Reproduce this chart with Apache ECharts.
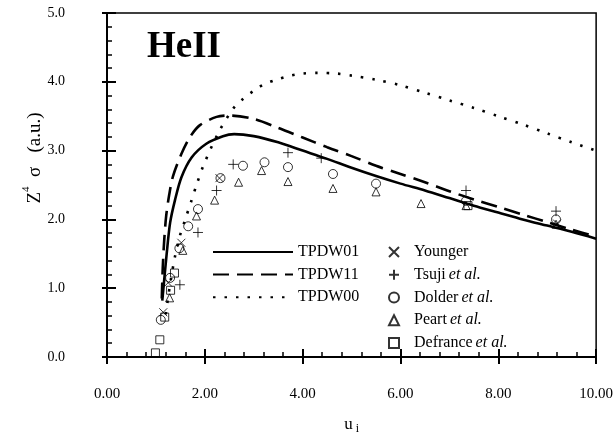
<!DOCTYPE html>
<html>
<head>
<meta charset="utf-8">
<script src="https://cdn.jsdelivr.net/npm/echarts@6/dist/echarts.min.js"></script>
<style>html,body{margin:0;padding:0;background:#fff;}#c{width:616px;height:440px;}</style>
</head>
<body>
<div id="c"></div>
<script>
// ---- data ----
const xTicks = [0, 2, 4, 6, 8, 10];
const yTicks = [0, 1, 2, 3, 4, 5];

const tpdw01 = [[1.13,0.82],[1.18,1.2],[1.22,1.5],[1.29,1.95],[1.39,2.28],[1.52,2.61],[1.73,2.9],[2.03,3.1],[2.37,3.21],[2.6,3.24],[3.0,3.21],[3.5,3.12],[4.0,3.0],[4.5,2.88],[5.0,2.75],[5.5,2.63],[6.0,2.52],[6.5,2.42],[7.0,2.31],[7.5,2.2],[8.0,2.1],[8.5,2.0],[9.0,1.91],[9.5,1.82],[10,1.72]];
const tpdw11 = [[1.12,0.85],[1.14,1.3],[1.17,1.7],[1.21,2.05],[1.27,2.35],[1.35,2.63],[1.52,2.95],[1.7,3.2],[1.9,3.37],[2.24,3.49],[2.5,3.51],[3.0,3.46],[3.5,3.33],[4.0,3.19],[4.5,3.05],[5.0,2.92],[5.5,2.78],[6.0,2.66],[6.5,2.54],[7.0,2.41],[7.5,2.29],[8.0,2.18],[8.5,2.07],[9.0,1.96],[9.5,1.85],[10,1.75]];
const tpdw00 = [[1.2,0.62],[1.3,1.1],[1.39,1.46],[1.49,1.76],[1.59,1.98],[1.73,2.28],[1.83,2.5],[1.97,2.78],[2.27,3.25],[2.58,3.61],[2.78,3.75],[3.0,3.87],[3.2,3.96],[3.5,4.04],[3.75,4.09],[4.0,4.12],[4.3,4.13],[4.7,4.12],[5.0,4.09],[5.5,4.03],[6.0,3.95],[6.5,3.84],[7.0,3.73],[7.5,3.62],[8.0,3.5],[8.5,3.38],[9.0,3.25],[9.5,3.12],[10,3.0]];

const younger  = [[1.15,0.65],[1.25,1.08],[1.52,1.66],[2.3,2.6],[9.2,1.94]];
const tsuji    = [[1.49,1.05],[1.86,1.81],[2.24,2.42],[2.58,2.8],[3.70,2.97],[4.38,2.89],[7.34,2.42],[9.18,2.12]];
const dolder   = [[1.10,0.54],[1.29,1.15],[1.48,1.58],[1.66,1.9],[1.86,2.15],[2.32,2.6],[2.78,2.78],[3.22,2.83],[3.70,2.76],[4.62,2.66],[5.5,2.52],[7.34,2.27],[9.18,2.0]];
const peart    = [[1.28,0.86],[1.55,1.55],[1.83,2.05],[2.2,2.28],[2.69,2.54],[3.16,2.71],[3.70,2.55],[4.62,2.45],[5.5,2.40],[6.42,2.23],[7.34,2.20],[9.18,1.93]];
const defrance = [[0.99,0.06],[1.08,0.25],[1.18,0.58],[1.3,0.97],[1.38,1.22],[7.38,2.2]];

const lineNames = ['TPDW01', 'TPDW11', 'TPDW00'];
const pointNames = ['Younger', 'Tsuji et al.', 'Dolder et al.', 'Peart et al.', 'Defrance et al.'];

// ---- chart ----
const FONT = '"Liberation Serif", "DejaVu Serif", serif';
const chart = echarts.init(document.getElementById('c'), null, {renderer: 'canvas'});

const crossPath = 'path://M0,0L10,10M10,0L0,10';
const plusPath = 'path://M5,0L5,10M0,5L10,5';
const openStyle = {color: 'rgba(0,0,0,0)', borderColor: '#000', borderWidth: 1};

function lineSeries(name, data, width, dash) {
  return {
    name, type: 'line', data, smooth: 0.3,
    symbol: 'none', z: 3,
    lineStyle: {color: '#000', width, type: dash, cap: 'butt'},
    itemStyle: {color: '#000'}
  };
}
function pointSeries(name, data, symbol, size) {
  return {
    name, type: 'scatter', data, symbol, symbolSize: size, z: 4,
    itemStyle: Object.assign({}, openStyle)
  };
}

const axisCommonX = {type: 'value', min: 0, max: 10, interval: 2, gridIndex: 0, position: 'bottom'};
const axisCommonY = {type: 'value', min: 0, max: 5, interval: 1, gridIndex: 0, position: 'left'};

function legendFormatter(name) {
  const m = name.match(/^(.*) (et al\.)$/);
  if (m) return '{n|' + m[1] + '} {i|' + m[2] + '}';
  return '{n|' + name + '}';
}

const option = {
  backgroundColor: '#fff',
  animation: false,
  textStyle: {fontFamily: FONT, color: '#000'},
  title: {
    text: 'HeII', left: 147, top: 29, padding: 0,
    textStyle: {fontFamily: FONT, fontWeight: 'bold', fontSize: 37, color: '#000'}
  },
  grid: {
    left: 107, right: 19, top: 13, bottom: 76,
    show: true, borderColor: '#000', borderWidth: 1.5, backgroundColor: 'transparent'
  },
  xAxis: [
    Object.assign({}, axisCommonX, {
      name: '{u|u}{s| i}', nameLocation: 'middle', nameGap: 58,
      nameTextStyle: {rich: {u: {fontFamily: FONT, fontSize: 17, color: '#000'}, s: {fontFamily: FONT, fontSize: 12, color: '#000', padding: [8, 0, 0, 0]}}},
      axisLine: {show: true, onZero: false, lineStyle: {color: '#000', width: 2}},
      axisTick: {show: true, inside: true, length: 8, lineStyle: {color: '#000', width: 2}},
      minorTick: {show: true, splitNumber: 5, length: 5, lineStyle: {color: '#000', width: 1.5}},
      splitLine: {show: false},
      axisLabel: {margin: 30, fontFamily: FONT, fontSize: 15, color: '#000', formatter: v => v.toFixed(2)}
    }),
    Object.assign({}, axisCommonX, {
      axisLine: {show: false},
      axisTick: {show: true, inside: false, length: 7, lineStyle: {color: '#000', width: 2}},
      axisLabel: {show: false}, splitLine: {show: false}
    })
  ],
  yAxis: [
    Object.assign({}, axisCommonY, {
      axisLine: {show: true, onZero: false, lineStyle: {color: '#000', width: 2}},
      axisTick: {show: true, inside: true, length: 9, lineStyle: {color: '#000', width: 2}},
      minorTick: {show: true, splitNumber: 5, length: 5, lineStyle: {color: '#000', width: 1.5}},
      splitLine: {show: false},
      axisLabel: {margin: 42, fontFamily: FONT, fontSize: 14, color: '#000', formatter: v => v.toFixed(1)}
    }),
    Object.assign({}, axisCommonY, {
      axisLine: {show: false},
      axisTick: {show: true, inside: false, length: 5, lineStyle: {color: '#000', width: 2}},
      axisLabel: {show: false}, splitLine: {show: false}
    })
  ],
  legend: [
    {
      data: lineNames, orient: 'vertical', left: 212, top: 244, padding: 0,
      itemWidth: 80, itemHeight: 14, itemGap: 6.6, selectedMode: false,
      itemStyle: {opacity: 0},
      formatter: legendFormatter,
      textStyle: {rich: {n: {fontFamily: FONT, fontSize: 16, lineHeight: 16, color: '#000'}}}
    },
    {
      data: pointNames, orient: 'vertical', left: 388, top: 244, padding: 0,
      itemWidth: 10, itemHeight: 10, itemGap: 6.75, selectedMode: false,
      formatter: legendFormatter,
      textStyle: {rich: {
        n: {fontFamily: FONT, fontSize: 16, lineHeight: 16, color: '#000', padding: [0, 0, 0, 10]},
        i: {fontFamily: FONT, fontSize: 16, lineHeight: 16, color: '#000', fontStyle: 'italic'}
      }}
    }
  ],
  graphic: [
    {
      type: 'text', x: 33, y: 158, rotation: Math.PI / 2, z: 10,
      style: {
        text: '{z|Z}{p|4}{s|  σ   (a.u.)}',
        align: 'center', verticalAlign: 'middle',
        rich: {
          z: {fontFamily: FONT, fontSize: 19, fill: '#000', lineHeight: 24, verticalAlign: 'bottom'},
          p: {fontFamily: FONT, fontSize: 11, fill: '#000', lineHeight: 24, verticalAlign: 'top'},
          s: {fontFamily: FONT, fontSize: 19, fill: '#000', lineHeight: 24, verticalAlign: 'bottom'}
        }
      }
    }
  ],
  series: [
    lineSeries('TPDW01', tpdw01, 2.6, 'solid'),
    lineSeries('TPDW11', tpdw11, 2.6, [16, 8]),
    lineSeries('TPDW00', tpdw00, 2.6, [2.5, 9]),
    pointSeries('Younger', younger, crossPath, 8),
    pointSeries('Tsuji et al.', tsuji, plusPath, 10),
    pointSeries('Dolder et al.', dolder, 'circle', 9),
    pointSeries('Peart et al.', peart, 'triangle', 8),
    pointSeries('Defrance et al.', defrance, 'rect', 8)
  ]
};
chart.setOption(option);
</script>
</body>
</html>
